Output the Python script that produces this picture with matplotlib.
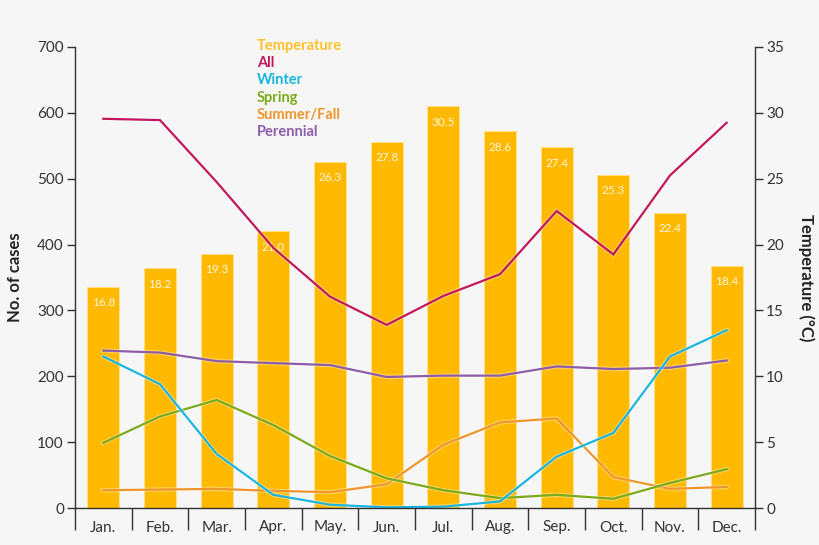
import matplotlib
matplotlib.use("Agg")
import matplotlib.pyplot as plt
import matplotlib.patheffects as pe
import numpy as np

months = ["Jan.", "Feb.", "Mar.", "Apr.", "May.", "Jun.", "Jul.", "Aug.", "Sep.", "Oct.", "Nov.", "Dec."]
temperature = [16.8, 18.2, 19.3, 21.0, 26.3, 27.8, 30.5, 28.6, 27.4, 25.3, 22.4, 18.4]
all_cases = [591, 589, 495, 395, 321, 278, 322, 355, 451, 385, 505, 585]
winter = [230, 188, 82, 20, 5, 1, 2, 10, 78, 114, 230, 270]
spring = [99, 139, 164, 126, 79, 45, 27, 15, 20, 14, 38, 59]
summer_fall = [27, 28, 29, 26, 24, 36, 96, 130, 136, 47, 29, 32]
perennial = [239, 236, 223, 220, 217, 199, 201, 201, 215, 211, 213, 224]

bg = "#F6F6F6"
c_bar = "#FFB900"
c_temp_leg = "#FFC12B"
c_all = "#C2185B"
c_winter = "#1BB6E0"
c_spring = "#7BAA1A"
c_summer = "#EE962E"
c_peren = "#8E5DA8"
txt = "#333333"

plt.rcParams['font.family'] = ['Lato', 'DejaVu Sans']

fig = plt.figure(figsize=(8.2, 5.45), dpi=100, facecolor=bg)
ax = fig.add_axes([75/820, 1-508/545, 680/820, 461/545])
ax.set_facecolor(bg)
ax2 = ax.twinx()
ax2.set_zorder(0)
ax.set_zorder(1)
ax.patch.set_visible(False)

x = np.arange(len(months))
ax2.bar(x, temperature, width=0.565, color=c_bar, edgecolor="#FFE08A", linewidth=0.6)
for xi, t in zip(x, temperature):
    ax2.text(xi, t - 0.8, f"{t:.1f}", ha="center", va="top", fontsize=8.5, color="#FFF6DA")
ax2.set_ylim(0, 35)
ax2.set_yticks(np.arange(0, 36, 5))

effects = [pe.Stroke(linewidth=3.2, foreground="white", alpha=0.35), pe.Normal()]
for series, col in [(all_cases, c_all), (perennial, c_peren), (summer_fall, c_summer),
                    (spring, c_spring), (winter, c_winter)]:
    ax.plot(x, series, color=col, linewidth=1.6, path_effects=effects, solid_joinstyle="miter")

ax.set_xlim(-0.5, 11.5)
ax2.set_xlim(-0.5, 11.5)
ax.set_ylim(0, 700)
ax.set_yticks(np.arange(0, 701, 100))

ax.set_xticks(x)
ax.set_xticklabels(months)
ax.set_xticks(np.arange(-0.5, 12, 1), minor=True)
ax.tick_params(axis="x", which="major", length=0, pad=9, labelsize=11, labelcolor=txt)
ax.tick_params(axis="x", which="minor", length=16, width=1, color="#333333", direction="out")
ax.tick_params(axis="y", length=6, width=1, color="#333333", labelsize=11, labelcolor=txt, pad=2)
ax2.tick_params(axis="y", length=6, width=1, color="#333333", labelsize=11, labelcolor=txt, pad=2)

for a in (ax, ax2):
    a.spines["top"].set_visible(False)
    for s in ("left", "right", "bottom"):
        a.spines[s].set_color("#333333")
        a.spines[s].set_linewidth(1)
ax.spines["right"].set_visible(False)
ax2.spines["left"].set_visible(False)
ax2.spines["bottom"].set_visible(False)

ax.set_ylabel("No. of cases", fontsize=12, fontweight="bold", color="#222222", labelpad=10)
ax2.set_ylabel("Temperature (°C)", fontsize=12, fontweight="bold", color="#222222", rotation=270, labelpad=22)

legend_items = [("Temperature", c_temp_leg), ("All", c_all), ("Winter", c_winter),
                ("Spring", c_spring), ("Summer/Fall", c_summer), ("Perennial", c_peren)]
for i, (lab, col) in enumerate(legend_items):
    fig.text(257/820, 1 - (46 + i*17.2)/545, lab, color=col, fontsize=10.5, fontweight="bold",
             ha="left", va="center")

fig.savefig("out.png", dpi=100, facecolor=bg)
